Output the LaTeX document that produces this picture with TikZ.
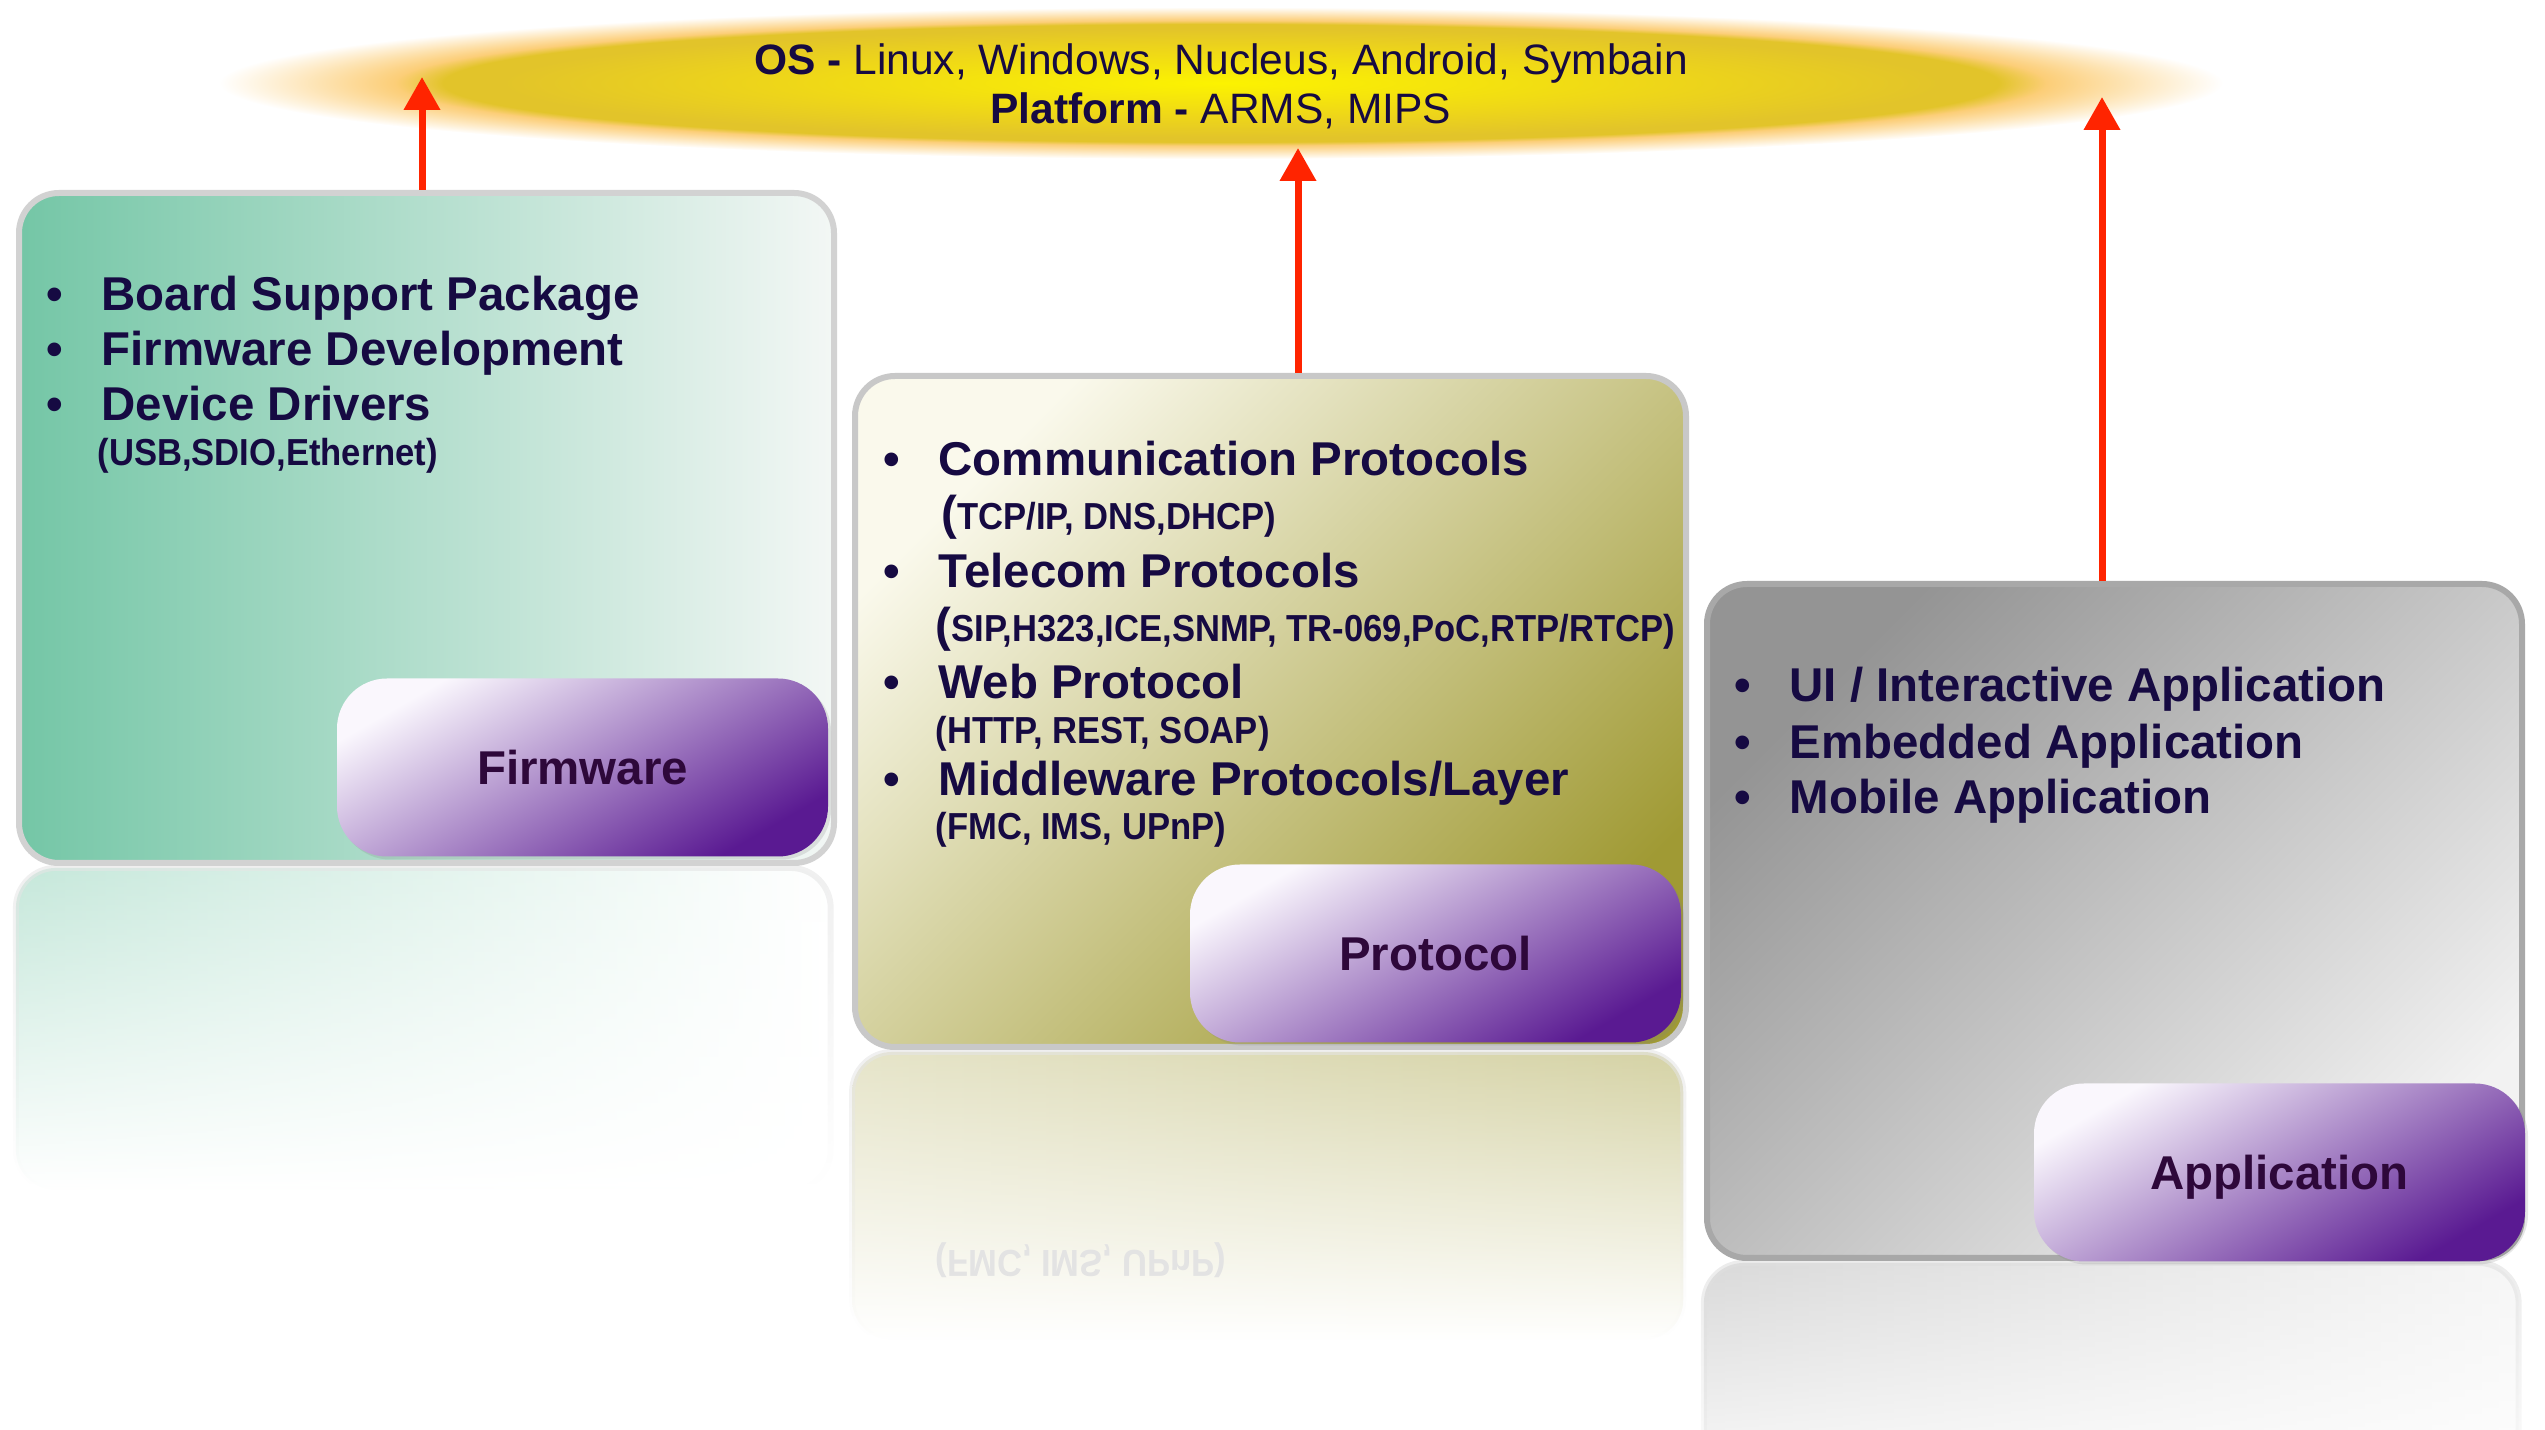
\documentclass[tikz,border=0pt]{standalone}
\usepackage{fontspec}
\setmainfont{Liberation Sans}
\newfontfamily\narrowfont[FakeStretch=0.92]{Liberation Sans}
\usepackage{xcolor}
\usepackage{tikz}
\usetikzlibrary{calc}
\usetikzlibrary{shapes.geometric, arrows.meta, fadings, shadows, positioning}

\definecolor{ink}{RGB}{22,10,66}
\definecolor{plum}{RGB}{46,8,58}
\definecolor{fwleft}{RGB}{116,198,166}
\definecolor{fwright}{RGB}{243,247,245}
\definecolor{prtop}{RGB}{250,249,236}
\definecolor{prbottom}{RGB}{160,154,52}
\definecolor{aptop}{RGB}{148,148,148}
\definecolor{apbottom}{RGB}{242,242,242}
\definecolor{badgetop}{RGB}{250,247,253}
\definecolor{badgebottom}{RGB}{90,26,146}
\definecolor{arrowred}{RGB}{255,36,0}
\definecolor{glowcore}{RGB}{252,243,0}
\definecolor{glowmid}{RGB}{238,214,25}
\definecolor{glowrim}{RGB}{226,196,42}
\definecolor{glowamber}{RGB}{252,206,120}

\pgfdeclareradialshading{osglow}{\pgfpoint{0bp}{0bp}}{color(0bp)=(glowcore); color(11bp)=(glowmid); color(18bp)=(glowrim); color(19.4bp)=(glowrim); color(20.6bp)=(glowamber); color(25bp)=(white); color(50bp)=(white)}
\tikzfading[name=reflect fade, top color=transparent!40, bottom color=transparent!100]

\newcommand\BigOpen{{\normalfont\bfseries\fontsize{13.5}{16}\selectfont(}}

\begin{document}
\begin{tikzpicture}[
  panel node/.style={draw, rounded corners=0.4cm, line width=0.06cm, anchor=north west, inner sep=0pt},
  label node/.style={rounded corners=0.5cm, minimum width=4.91cm, minimum height=1.78cm, top color=badgetop, bottom color=badgebottom, shading angle=30, text=plum, font=\fontsize{13.5}{16}\selectfont\bfseries, text height=0.34cm, text depth=0cm, drop shadow={opacity=0.2, shadow xshift=0.03cm, shadow yshift=-0.03cm}},
  item node/.style={anchor=base west, inner sep=0pt, text=ink, font=\fontsize{13.5}{16}\selectfont\bfseries},
  sub node/.style={anchor=base west, inner sep=0pt, text=ink, font=\narrowfont\fontsize{10.7}{13}\selectfont\bfseries},
  up arrow/.style={draw=arrowred, line width=0.07cm, -{Triangle[width=0.35cm,length=0.33cm]}},
  mirror box/.style={rounded corners=0.4cm, line width=0.06cm, path fading=reflect fade}]

\useasboundingbox (0,0) rectangle (25.45,-14.30);

\node[ellipse, shade, shading=osglow, minimum width=20.04cm, minimum height=1.52cm, inner sep=0pt] (OSGlow) at (12.21,-0.83) {};
\node[align=center, text=ink, font=\fontsize{12.1}{13.94}\selectfont] (OSText) at (12.21,-0.86) {\textbf{OS -} Linux, Windows, Nucleus, Android, Symbain\\\textbf{Platform -} ARMS, MIPS};

% reflections
\path[mirror box, left color=fwleft!70, right color=white, draw=gray!20] (0.16,-8.68) rectangle (8.31,-11.9);
\path[mirror box, left color=prbottom!45, right color=prbottom!75, draw=gray!20] (8.52,-10.52) rectangle (16.83,-13.4);
\path[mirror box, left color=gray!50, right color=gray!12, draw=gray!25] (17.04,-12.63) rectangle (25.19,-15.2);
\node[sub node, yscale=-1, text=gray!22] (MiddlewareMirror) at (9.35,-12.51) {(FMC, IMS, UPnP)};

\node[panel node, draw=gray!35, minimum width=8.15cm, minimum height=6.70cm, left color=fwleft, right color=fwright] (FirmwareBox) at (0.16,-1.90) {};
\node[panel node, draw=gray!43, minimum width=8.31cm, minimum height=6.71cm, top color=prtop, bottom color=prbottom, shading angle=45] (ProtocolBox) at (8.52,-3.73) {};
\node[panel node, draw=gray!68, minimum width=8.15cm, minimum height=6.74cm, top color=aptop, bottom color=apbottom, shading angle=45] (ApplicationBox) at (17.04,-5.81) {};

\node[label node] (FirmwareLabel) at (5.825,-7.675) {Firmware};
\node[label node] (ProtocolLabel) at (14.355,-9.535) {Protocol};
\node[label node] (ApplicationLabel) at (22.795,-11.725) {Application};

\foreach \t/\y [count=\i] in {Board Support Package/3.11, Firmware Development/3.66, Device Drivers/4.21}
   \node[item node] (FirmwareItem\i) at (0.46,-\y) {\makebox[0.55cm][l]{\textbullet}\t};
\node[sub node] (FirmwareSub) at (0.97,-4.66) {(USB,SDIO,Ethernet)};

\foreach \t/\y [count=\i] in {Communication Protocols/4.76, Telecom Protocols/5.88, Web Protocol/6.99, {Middleware Protocols/Layer}/7.96}
   \node[item node] (ProtocolItem\i) at (8.83,-\y) {\makebox[0.55cm][l]{\textbullet}\t};
\node[sub node] (ProtocolSub1) at (9.41,-5.30) {\BigOpen TCP/IP, DNS,DHCP)};
\node[sub node] (ProtocolSub2) at (9.35,-6.42) {\BigOpen SIP,H323,ICE,SNMP, TR-069,PoC,RTP/RTCP)};
\node[sub node] (ProtocolSub3) at (9.35,-7.44) {(HTTP, REST, SOAP)};
\node[sub node] (ProtocolSub4) at (9.35,-8.40) {(FMC, IMS, UPnP)};

\foreach \t/\y [count=\i] in {{UI / Interactive Application}/7.02, Embedded Application/7.59, Mobile Application/8.14}
   \node[item node] (ApplicationItem\i) at (17.34,-\y) {\makebox[0.55cm][l]{\textbullet}\t};

\coordinate (FirmwareTip) at (4.22,-0.77);
\coordinate (ProtocolTip) at (12.98,-1.48);
\coordinate (ApplicationTip) at (21.02,-0.97);
\draw[up arrow] (FirmwareBox.north -| FirmwareTip) -- (FirmwareTip);
\draw[up arrow] (ProtocolBox.north -| ProtocolTip) -- (ProtocolTip);
\draw[up arrow] (ApplicationBox.north -| ApplicationTip) -- (ApplicationTip);
\end{tikzpicture}
\end{document}
